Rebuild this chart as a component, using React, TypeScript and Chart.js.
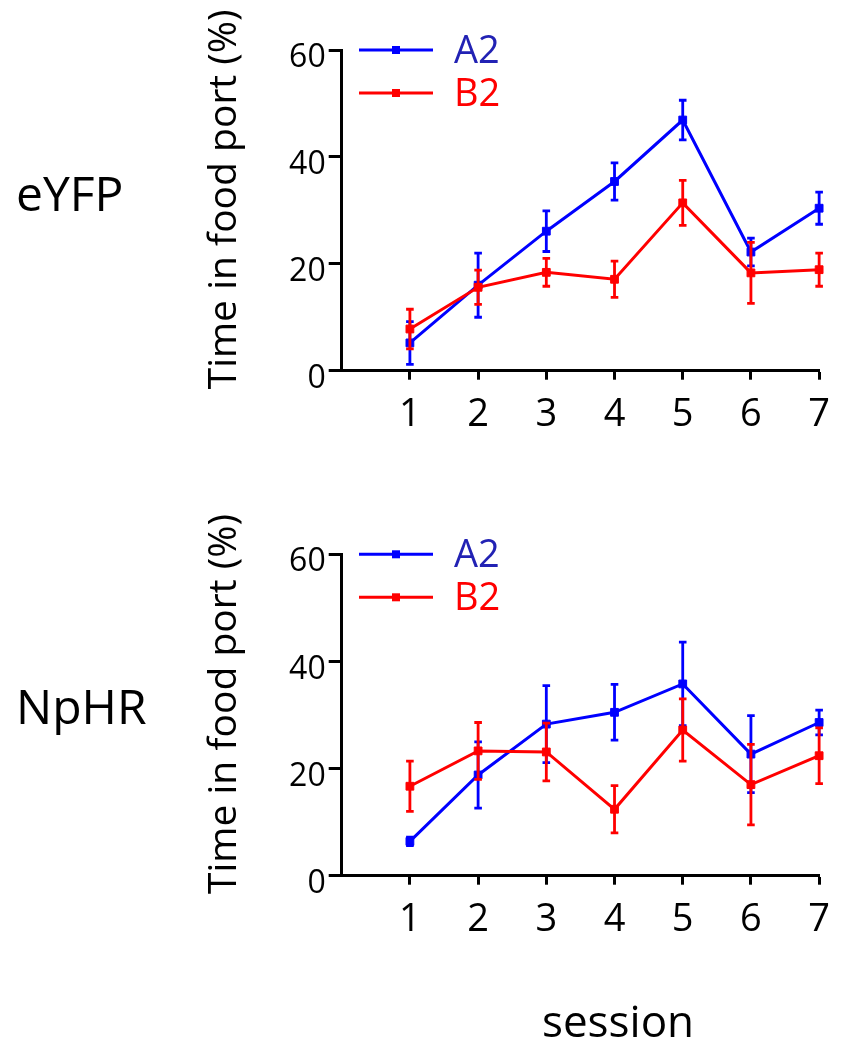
import React, { useEffect, useRef } from 'react';
import { Chart, registerables } from 'chart.js';

Chart.register(...registerables);

// ---------- data ----------
const sessions = [1, 2, 3, 4, 5, 6, 7];
const xTickLabels = ['1', '2', '3', '4', '5', '6', '7'];
const yTickValues = [0, 20, 40, 60];
const seriesNames = ['A2', 'B2'];
const panelNames = ['eYFP', 'NpHR'];

const eyfpA2 = [5.2, 16.0, 26.1, 35.4, 46.9, 22.2, 30.4];
const eyfpA2Err = [4.0, 6.0, 3.8, 3.5, 3.7, 2.6, 3.0];
const eyfpB2 = [7.8, 15.6, 18.4, 17.1, 31.4, 18.3, 18.9];
const eyfpB2Err = [3.7, 3.2, 2.6, 3.4, 4.2, 5.7, 3.1];

const nphrA2 = [6.4, 18.8, 28.3, 30.5, 35.8, 22.7, 28.6];
const nphrA2Err = [0.8, 6.2, 7.2, 5.2, 7.8, 7.2, 2.3];
const nphrB2 = [16.7, 23.3, 23.1, 12.4, 27.2, 17.0, 22.4];
const nphrB2Err = [4.7, 5.3, 5.4, 4.4, 5.8, 7.5, 5.2];

const yTitle = 'Time in food port (%)';
const xTitle = 'session';

// ---------- styles ----------
const FONT = "'Open Sans', sans-serif";
const BLUE = '#0000ff';
const RED = '#ff0000';
const BLUE_TEXT = '#2222b4';
const RED_TEXT = '#ff0000';
const W = 843;

const errorBarPlugin = {
  id: 'errorBars',
  beforeDatasetDraw(chart: any, args: any) {
    const ds = chart.data.datasets[args.index];
    const errs: number[] | undefined = ds.errors;
    if (!errs) return;
    const { ctx } = chart;
    const yScale = chart.scales.y;
    ctx.save();
    ctx.strokeStyle = ds.borderColor;
    ctx.lineWidth = 2.8;
    ctx.lineCap = 'butt';
    args.meta.data.forEach((pt: any, i: number) => {
      const v = ds.data[i].y;
      const top = yScale.getPixelForValue(v + errs[i]);
      const bot = yScale.getPixelForValue(v - errs[i]);
      const x = pt.x;
      ctx.beginPath();
      ctx.moveTo(x, top);
      ctx.lineTo(x, bot);
      ctx.moveTo(x - 3.8, top);
      ctx.lineTo(x + 3.8, top);
      ctx.moveTo(x - 3.8, bot);
      ctx.lineTo(x + 3.8, bot);
      ctx.stroke();
    });
    ctx.restore();
  },
};

const decorPlugin = {
  id: 'decor',
  afterDraw(chart: any, _args: any, opts: any) {
    const { ctx, chartArea } = chart;
    ctx.save();
    // legend
    chart.data.datasets.forEach((ds: any, i: number) => {
      const ly = chartArea.top + opts.legendTop + i * opts.legendGap;
      ctx.strokeStyle = ds.borderColor;
      ctx.lineWidth = 3;
      ctx.beginPath();
      ctx.moveTo(opts.legendX1, ly);
      ctx.lineTo(opts.legendX2, ly);
      ctx.stroke();
      const mx = (opts.legendX1 + opts.legendX2) / 2;
      ctx.fillStyle = ds.borderColor;
      ctx.fillRect(mx - 4, ly - 4, 8, 8);
      ctx.fillStyle = ds.textColor;
      ctx.font = `38px ${FONT}`;
      ctx.textAlign = 'left';
      ctx.textBaseline = 'middle';
      ctx.fillText(ds.label, opts.legendTextX, ly + 2);
    });
    // y title
    ctx.fillStyle = '#000';
    ctx.font = `39px ${FONT}`;
    ctx.save();
    ctx.translate(opts.yTitleX, (chartArea.top + chartArea.bottom) / 2 + opts.yTitleShift);
    ctx.rotate(-Math.PI / 2);
    ctx.textAlign = 'center';
    ctx.textBaseline = 'alphabetic';
    ctx.fillText(yTitle, 0, 0);
    ctx.restore();
    // panel label
    ctx.font = `48px ${FONT}`;
    ctx.textAlign = 'left';
    ctx.textBaseline = 'alphabetic';
    ctx.fillText(opts.panel, opts.panelX, opts.panelY);
    // x title
    if (opts.showXTitle) {
      ctx.font = `44px ${FONT}`;
      ctx.textAlign = 'center';
      ctx.fillText(xTitle, opts.xTitleX, opts.xTitleY);
    }
    ctx.restore();
  },
};

function makeDataset(label: string, vals: number[], errs: number[], color: string, textColor: string, order: number) {
  return {
    label,
    data: sessions.map((s, i) => ({ x: s, y: vals[i] })),
    errors: errs,
    borderColor: color,
    backgroundColor: color,
    textColor,
    borderWidth: 3,
    pointStyle: 'rect',
    pointRadius: 5.5,
    pointBorderWidth: 1,
    pointBackgroundColor: color,
    pointBorderColor: color,
    tension: 0,
    clip: false,
    order,
  };
}

function Panel({ top, height, a, aErr, b, bErr, panel, padTop, plotBottom, panelY, showXTitle, xTitleY }: any) {
  const ref = useRef<HTMLCanvasElement>(null);
  useEffect(() => {
    if (!ref.current) return;
    const chart = new Chart(ref.current, {
      type: 'line',
      data: {
        datasets: [
          makeDataset(seriesNames[0], a, aErr, BLUE, BLUE_TEXT, 1),
          makeDataset(seriesNames[1], b, bErr, RED, RED_TEXT, 0),
        ] as any,
      },
      options: {
        responsive: false,
        animation: false,
        devicePixelRatio: 1,
        layout: { padding: { top: padTop, right: W - 823.7, left: 0, bottom: 0 } },
        plugins: {
          legend: { display: false },
          tooltip: { enabled: false },
          decor: {
            legendTop: 0,
            legendGap: 43,
            legendX1: 359,
            legendX2: 433,
            legendTextX: 454,
            yTitleX: 236,
            yTitleShift: -11,
            panel,
            panelX: 16,
            panelY,
            showXTitle,
            xTitleX: 618,
            xTitleY,
          },
        } as any,
        scales: {
          x: {
            type: 'linear',
            min: 0,
            max: 7,
            afterBuildTicks: (s: any) => {
              s.ticks = sessions.map((v) => ({ value: v }));
            },
            afterFit: (s: any) => {
              s.height = height - plotBottom;
            },
            ticks: {
              callback: (v: any) => xTickLabels[sessions.indexOf(Number(v))] ?? '',
              font: { family: FONT, size: 38 },
              color: '#000',
              padding: 13,
              maxRotation: 0,
              autoSkip: false,
            },
            grid: {
              display: true,
              drawOnChartArea: false,
              drawTicks: true,
              tickLength: 9,
              tickWidth: 3,
              tickColor: '#000',
            },
            border: { display: true, width: 3, color: '#000' },
          },
          y: {
            type: 'linear',
            min: 0,
            max: 60,
            afterBuildTicks: (s: any) => {
              s.ticks = yTickValues.map((v) => ({ value: v }));
            },
            afterFit: (s: any) => {
              s.width = 341.7;
            },
            ticks: {
              font: { family: FONT, size: 32 },
              color: '#000',
              padding: 3,
              labelOffset: 8,
            },
            grid: {
              display: true,
              drawOnChartArea: false,
              drawTicks: true,
              tickLength: 13,
              tickWidth: 3,
              tickColor: '#000',
            },
            border: { display: true, width: 3, color: '#000' },
          },
        },
      },
      plugins: [errorBarPlugin, decorPlugin],
    });
    return () => chart.destroy();
  }, []);
  return (
    <canvas
      ref={ref}
      width={W}
      height={height}
      style={{ position: 'absolute', left: 0, top, display: 'block', width: W, height }}
    />
  );
}

export default function App() {
  return (
    <div style={{ position: 'absolute', left: 0, top: 0, width: W, height: 1050, background: '#fff' }}>
      <Panel
        top={0}
        height={490}
        a={eyfpA2}
        aErr={eyfpA2Err}
        b={eyfpB2}
        bErr={eyfpB2Err}
        panel={panelNames[0]}
        padTop={50}
        plotBottom={370.7}
        panelY={211}
        showXTitle={false}
        xTitleY={0}
      />
      <Panel
        top={490}
        height={560}
        a={nphrA2}
        aErr={nphrA2Err}
        b={nphrB2}
        bErr={nphrB2Err}
        panel={panelNames[1]}
        padTop={64.3}
        plotBottom={385.7}
        panelY={234}
        showXTitle={true}
        xTitleY={547}
      />
    </div>
  );
}
